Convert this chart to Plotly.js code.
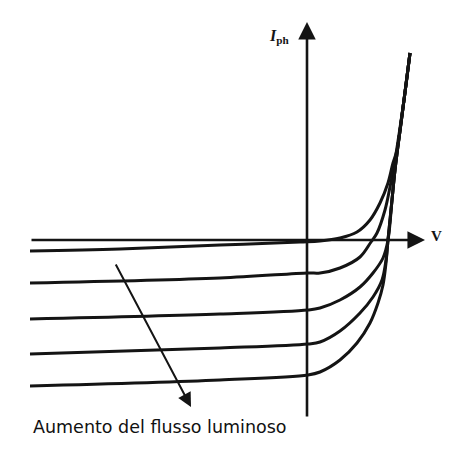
<!DOCTYPE html>
<html>
<head>
<meta charset="utf-8">
<script src="https://cdn.plot.ly/plotly-3.0.1.min.js"></script>
<style>
  html, body { margin: 0; padding: 0; background: #fff; }
  #chart { width: 458px; height: 455px; }
</style>
</head>
<body>
<div id="chart"></div>
<script>
// Photodiode I-V characteristics: one curve per light level (arbitrary units).
// Voltage values (V) and photocurrent values (I) sampled along each curve.
const v0 = [-27.7, -18.7, -8.7, -0.7, 1.3, 3.3, 5.0, 6.3, 7.3, 8.1, 8.6, 9.0, 9.7, 10.3];
const i0 = [-1.1, -0.9, -0.5, -0.2, -0.1, 0.2, 0.8, 2.0, 3.7, 5.7, 7.7, 9.0, 14.0, 18.7];

const v1 = [-27.7, -8.7, 0.1, 1.3, 3.3, 5.3, 6.4, 7.0, 7.8, 8.3, 8.8, 9.7, 10.3];
const i1 = [-4.3, -3.8, -3.3, -3.3, -2.8, -1.7, -0.2, 0.7, 3.0, 5.3, 8.0, 14.0, 18.7];

const v2 = [-27.7, -8.7, 0.1, 1.3, 3.3, 5.3, 6.6, 7.6, 8.1, 8.5, 8.8, 9.7, 10.3];
const i2 = [-7.9, -7.4, -7.0, -6.8, -6.0, -4.7, -3.3, -1.8, 0.0, 4.0, 7.0, 14.0, 18.7];

const v3 = [-27.7, -8.7, 0.1, 1.3, 3.3, 5.3, 6.6, 7.5, 7.9, 8.1, 8.5, 8.8, 9.7, 10.3];
const i3 = [-11.4, -10.8, -10.4, -10.2, -9.1, -7.3, -5.7, -4.0, -2.0, 0.0, 4.0, 7.0, 14.0, 18.7];

const v4 = [-27.7, -8.7, 0.1, 1.3, 3.3, 5.0, 6.3, 7.1, 7.6, 7.9, 8.1, 8.5, 8.8, 9.7, 10.3];
const i4 = [-14.6, -14.0, -13.5, -13.2, -12.0, -10.3, -8.3, -6.3, -4.5, -2.3, 0.0, 4.0, 7.0, 14.0, 18.7];

const curvesV = [v0, v1, v2, v3, v4];
const curvesI = [i0, i1, i2, i3, i4];

// Axis extents: tail and tip of each axis arrow
const vAxisV = [-27.7, 11.8];
const iAxisI = [-17.8, 21.8];

// Direction arrow for increasing light flux: tail and tip
const fluxArrowV = [-19.2, -11.6];
const fluxArrowI = [-2.3, -16.7];

const ink = '#141414';

const traces = curvesV.map((vs, k) => ({
  type: 'scatter',
  mode: 'lines',
  x: vs,
  y: curvesI[k],
  line: { color: ink, width: 3, shape: 'spline', smoothing: 1 },
  hoverinfo: 'skip',
  showlegend: false
}));

// Arrow drawn in data coordinates from a tail point to a tip point
function arrow(tailV, tailI, tipV, tipI, width, size) {
  return {
    x: tipV, y: tipI, ax: tailV, ay: tailI,
    xref: 'x', yref: 'y', axref: 'x', ayref: 'y',
    text: '', showarrow: true,
    arrowhead: 2, arrowsize: size, arrowwidth: width, arrowcolor: ink,
    standoff: 0, startstandoff: 0
  };
}

const annotations = [
  arrow(vAxisV[0], 0, vAxisV[1], 0, 2.6, 1.35),
  arrow(0, iAxisI[0], 0, iAxisI[1], 2.6, 1.35),
  arrow(fluxArrowV[0], fluxArrowI[0], fluxArrowV[1], fluxArrowI[1], 2.0, 1.4),
  {
    x: 12.2, y: 0.4, xref: 'x', yref: 'y', xanchor: 'left', yanchor: 'middle',
    text: '<b>V</b>', showarrow: false,
    font: { family: 'Liberation Serif', size: 15, color: ink }
  },
  {
    x: -1.6, y: 20.4, xref: 'x', yref: 'y', xanchor: 'right', yanchor: 'middle',
    text: '<b><i>I</i></b><sub><b>ph</b></sub>', showarrow: false,
    font: { family: 'Liberation Serif', size: 16, color: ink }
  },
  {
    x: -27.6, y: -18.7, xref: 'x', yref: 'y', xanchor: 'left', yanchor: 'middle',
    text: 'Aumento del flusso luminoso', showarrow: false,
    font: { family: 'DejaVu Sans', size: 17.5, color: '#111111' }
  }
];

const hidden = { visible: false, showgrid: false, zeroline: false, fixedrange: true };

const layout = {
  width: 458,
  height: 455,
  margin: { l: 0, r: 0, t: 0, b: 0, pad: 0 },
  paper_bgcolor: '#ffffff',
  plot_bgcolor: '#ffffff',
  showlegend: false,
  xaxis: Object.assign({ range: [-30.7, 15.1] }, hidden),
  yaxis: Object.assign({ range: [-21.5, 24.0] }, hidden),
  annotations: annotations
};

Plotly.newPlot('chart', traces, layout, { staticPlot: true, displayModeBar: false });
</script>
</body>
</html>
